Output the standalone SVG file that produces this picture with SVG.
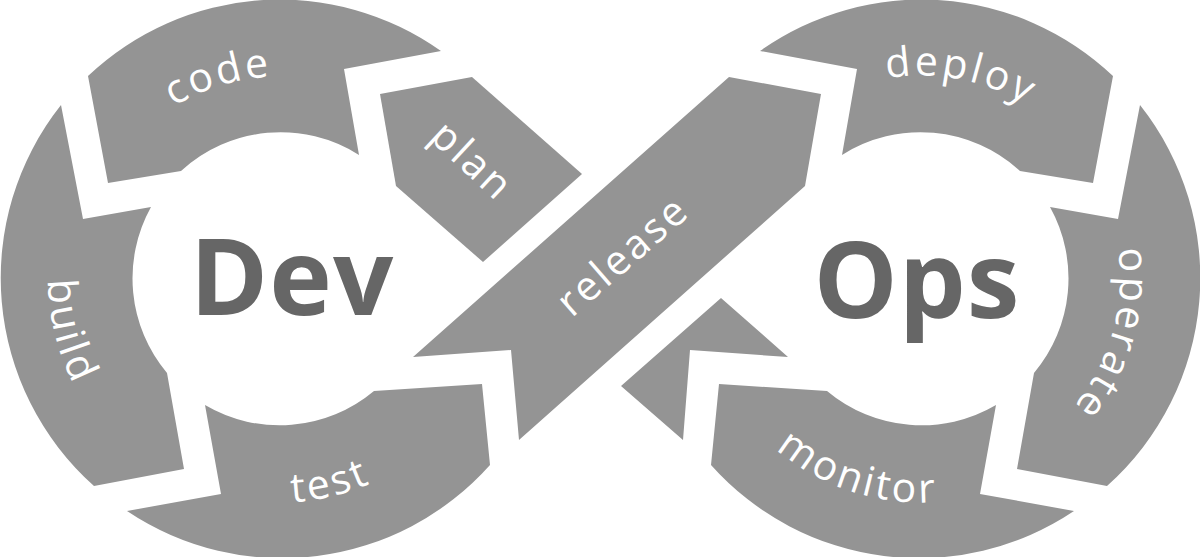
<svg xmlns="http://www.w3.org/2000/svg" xmlns:xlink="http://www.w3.org/1999/xlink" width="1200" height="557" viewBox="0 0 1200 557">
<style>
.seg{fill:#949494;stroke:none}
.lbl{font-family:"Open Sans","Liberation Sans",sans-serif;font-weight:400;font-size:41px;letter-spacing:3px;fill:#ffffff}
.big{font-family:"Open Sans","Liberation Sans",sans-serif;font-weight:700;font-size:106px;letter-spacing:1px;fill:#666666}
</style>
<defs>
<path id="p-code" d="M83.2,233.1 A202,202 0 0 1 417.8,130.8"/>
<path id="p-build" d="M118.8,111.6 A232,232 0 0 0 216.1,501.5"/>
<path id="p-test" d="M118,433.3 A224,224 0 0 0 495,341.4"/>
<path id="p-deploy" d="M767.8,145.3 A203,203 0 0 1 1112.9,212.4"/>
<path id="p-operate" d="M1064.1,140.3 A199,199 0 0 1 969.1,471.6"/>
<path id="p-monitor" d="M701.9,325.1 A224,224 0 0 0 1070.9,445"/>
</defs>
<rect width="1200" height="557" fill="#ffffff"/>
<g id="connectors">
<polygon class="seg" points="721,298 788,357 690,350 683,440 621,386"/>
</g>
<g id="plan">
<polygon class="seg" points="380,94 472,77 582,174 483,262 396,186"/>
<text class="lbl" text-anchor="middle" transform="translate(463,171) rotate(43)">plan</text>
</g>
<g id="code">
<path class="seg" d="M88,76 L108,183 L181,171 A147,147 0 0 1 359,155 L344,69 L441,51 A278.5,278.5 0 0 0 88,76 Z"/>
<text class="lbl"><textPath xlink:href="#p-code" href="#p-code" startOffset="50%" text-anchor="middle">code</textPath></text>
</g>
<g id="build">
<path class="seg" d="M61,105 L83,219 L151,207 A147,147 0 0 0 167,373 L184,469 L94,486 A278.5,278.5 0 0 1 61,105 Z"/>
<text class="lbl"><textPath xlink:href="#p-build" href="#p-build" startOffset="50%" text-anchor="middle">build</textPath></text>
</g>
<g id="test">
<path class="seg" d="M205,405 L221,494 L127,511 A278.5,278.5 0 0 0 490,465 L482,384 L374,391 A147,147 0 0 1 205,405 Z"/>
<text class="lbl"><textPath xlink:href="#p-test" href="#p-test" startOffset="50%" text-anchor="middle">test</textPath></text>
</g>
<g id="release">
<polygon class="seg" points="729,77 821,94 805,186 519,440 511,350 413,357"/>
<text class="lbl" text-anchor="middle" transform="translate(632,266) rotate(-41)">release</text>
</g>
<g id="deploy">
<path class="seg" d="M1113,76 L1093,183 L1020,171 A147,147 0 0 0 842,155 L857,69 L760,51 A278.5,278.5 0 0 1 1113,76 Z"/>
<text class="lbl"><textPath xlink:href="#p-deploy" href="#p-deploy" startOffset="50%" text-anchor="middle">deploy</textPath></text>
</g>
<g id="operate">
<path class="seg" d="M1140,105 L1118,219 L1050,207 A147,147 0 0 1 1034,373 L1017,469 L1107,486 A278.5,278.5 0 0 0 1140,105 Z"/>
<text class="lbl"><textPath xlink:href="#p-operate" href="#p-operate" startOffset="50%" text-anchor="middle">operate</textPath></text>
</g>
<g id="monitor">
<path class="seg" d="M996,405 L980,494 L1074,511 A278.5,278.5 0 0 1 711,465 L719,384 L827,391 A147,147 0 0 0 996,405 Z"/>
<text class="lbl"><textPath xlink:href="#p-monitor" href="#p-monitor" startOffset="50%" text-anchor="middle">monitor</textPath></text>
</g>
<g id="dev">
<text class="big" x="292" y="315" text-anchor="middle">Dev</text>
</g>
<g id="ops">
<text class="big" x="917" y="318" text-anchor="middle">Ops</text>
</g>
</svg>
